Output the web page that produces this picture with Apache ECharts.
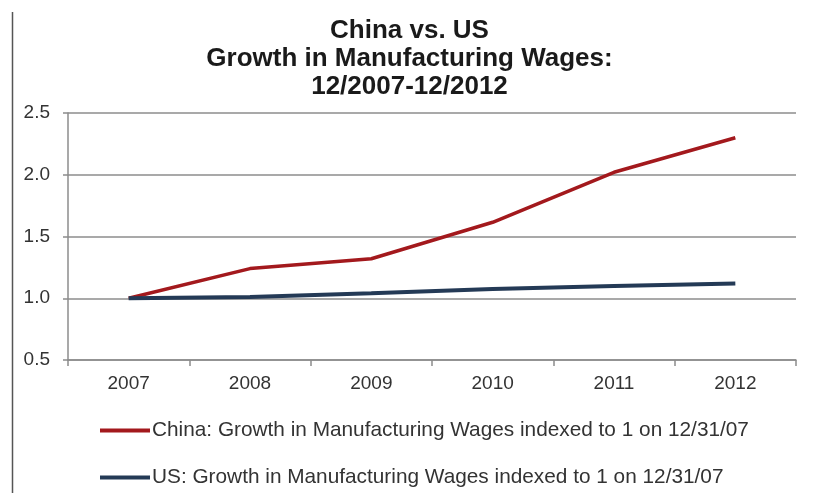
<!DOCTYPE html>
<html>
<head>
<meta charset="utf-8">
<style>html,body{margin:0;padding:0;background:#fff;}#c{width:819px;height:493px;}</style>
<script src="https://cdn.jsdelivr.net/npm/echarts@6/dist/echarts.min.js"></script>
</head>
<body>
<div id="c"></div>
<script>
const titleLines = ['China vs. US', 'Growth in Manufacturing Wages:', '12/2007-12/2012'];
const years = ['2007', '2008', '2009', '2010', '2011', '2012'];
const chinaName = 'China: Growth in Manufacturing Wages indexed to 1 on 12/31/07';
const usName = 'US: Growth in Manufacturing Wages indexed to 1 on 12/31/07';
const chinaValues = [1.00, 1.24, 1.32, 1.615, 2.02, 2.30];
const usValues = [1.00, 1.01, 1.04, 1.075, 1.10, 1.12];

const chart = echarts.init(document.getElementById('c'), null, {renderer: 'canvas'});
const font = 'Liberation Sans, Arial, sans-serif';
const legendBase = {
  orient: 'horizontal',
  left: 100,
  padding: 0,
  itemWidth: 50,
  itemHeight: 4,
  icon: 'rect',
  textStyle: {fontFamily: font, fontSize: 20.8, color: '#333', padding: [0, 0, 0, -3]}
};
chart.setOption({
  animation: false,
  backgroundColor: '#ffffff',
  title: {
    text: titleLines.join('\n'),
    left: 'center',
    top: 12,
    textStyle: {fontFamily: font, fontSize: 26, fontWeight: 'bold', color: '#1a1a1a', lineHeight: 28}
  },
  graphic: [{
    type: 'line', shape: {x1: 12.5, y1: 12, x2: 12.5, y2: 493},
    style: {stroke: '#555', lineWidth: 1.5}
  }],
  legend: [
    Object.assign({}, legendBase, {top: 420, data: [chinaName]}),
    Object.assign({}, legendBase, {top: 467, data: [usName]})
  ],
  grid: {left: 68, right: 23, top: 113, bottom: 133, containLabel: false},
  xAxis: {
    type: 'category',
    data: years,
    boundaryGap: true,
    axisLine: {lineStyle: {color: '#8c8c8c', width: 1.5}},
    axisTick: {show: true, length: 6, inside: false, lineStyle: {color: '#8c8c8c', width: 1.5}},
    axisLabel: {fontFamily: font, fontSize: 19, color: '#333', margin: 14}
  },
  yAxis: {
    type: 'value',
    min: 0.5, max: 2.5, interval: 0.5,
    axisLine: {show: true, lineStyle: {color: '#8c8c8c', width: 1.5}},
    axisTick: {show: true, length: 5, lineStyle: {color: '#8c8c8c', width: 1.5}},
    splitLine: {show: true, lineStyle: {color: '#8c8c8c', width: 1.5}},
    axisLabel: {fontFamily: font, fontSize: 19, color: '#333', margin: 18,
      formatter: v => v.toFixed(1)}
  },
  series: [
    {name: chinaName, type: 'line', data: chinaValues, symbol: 'none',
     lineStyle: {color: '#a3191d', width: 3.5}, itemStyle: {color: '#a3191d'}},
    {name: usName, type: 'line', data: usValues, symbol: 'none',
     lineStyle: {color: '#243a56', width: 4}, itemStyle: {color: '#243a56'}}
  ]
});
</script>
</body>
</html>
